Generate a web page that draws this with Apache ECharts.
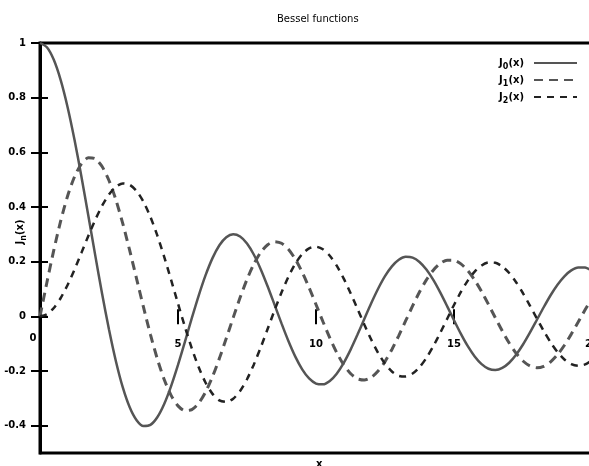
<!DOCTYPE html>
<html><head><meta charset="utf-8">
<script src="https://cdn.jsdelivr.net/npm/echarts@6/dist/echarts.min.js"></script>
<style>html,body{margin:0;padding:0;background:#fff}#c{width:589px;height:466px}</style>
</head><body><div id="c"></div>
<script>
const xs = [0,0.25,0.5,0.75,1,1.25,1.5,1.75,2,2.25,2.5,2.75,3,3.25,3.5,3.75,4,4.25,4.5,4.75,
  5,5.25,5.5,5.75,6,6.25,6.5,6.75,7,7.25,7.5,7.75,8,8.25,8.5,8.75,9,9.25,9.5,9.75,
  10,10.25,10.5,10.75,11,11.25,11.5,11.75,12,12.25,12.5,12.75,13,13.25,13.5,13.75,14,14.25,14.5,14.75,
  15,15.25,15.5,15.75,16,16.25,16.5,16.75,17,17.25,17.5,17.75,18,18.25,18.5,18.75,19,19.25,19.5,19.75,20];
const j0 = [1,0.9844,0.9385,0.8642,0.7652,0.6459,0.5118,0.3690,0.2239,0.0828,-0.0484,-0.1641,-0.2601,-0.3327,-0.3801,-0.4013,-0.3971,-0.3691,-0.3205,-0.2551,
  -0.1776,-0.0931,-0.0068,0.0759,0.1506,0.2130,0.2601,0.2894,0.3001,0.2919,0.2663,0.2252,0.1717,0.1092,0.0419,-0.0259,-0.0903,-0.1474,-0.1939,-0.2273,
  -0.2459,-0.2489,-0.2366,-0.2100,-0.1712,-0.1227,-0.0677,-0.0097,0.0477,0.1009,0.1469,0.1829,0.2069,0.2177,0.2150,0.1990,0.1711,0.1331,0.0875,0.0374,
  -0.0142,-0.0641,-0.1092,-0.1469,-0.1749,-0.1917,-0.1964,-0.1889,-0.1699,-0.1406,-0.1031,-0.0598,-0.0134,0.0332,0.0772,0.1157,0.1466,0.1681,0.1789,0.1784,0.1670];
const j1 = [0,0.1240,0.2423,0.3493,0.4401,0.5106,0.5579,0.5801,0.5767,0.5483,0.4971,0.4260,0.3391,0.2411,0.1374,0.0333,-0.0660,-0.1555,-0.2311,-0.2892,
  -0.3276,-0.3450,-0.3414,-0.3179,-0.2767,-0.2207,-0.1538,-0.0803,-0.0047,0.0685,0.1352,0.1915,0.2346,0.2621,0.2731,0.2672,0.2453,0.2091,0.1613,0.1049,
  0.0435,-0.0190,-0.0789,-0.1325,-0.1768,-0.2093,-0.2284,-0.2330,-0.2234,-0.2003,-0.1655,-0.1212,-0.0703,-0.0161,0.0380,0.0889,0.1334,0.1689,0.1934,0.2056,
  0.2051,0.1919,0.1672,0.1326,0.0904,0.0433,-0.0058,-0.0537,-0.0977,-0.1350,-0.1634,-0.1814,-0.1880,-0.1829,-0.1666,-0.1403,-0.1057,-0.0650,-0.0209,0.0240,0.0668];
const j2 = [0,0.0078,0.0306,0.0671,0.1149,0.1711,0.2321,0.2940,0.3528,0.4047,0.4461,0.4740,0.4862,0.4811,0.4586,0.4191,0.3641,0.2959,0.2178,0.1333,
  0.0466,-0.0383,-0.1173,-0.1865,-0.2429,-0.2837,-0.3074,-0.3132,-0.3014,-0.2731,-0.2303,-0.1758,-0.1130,-0.0456,0.0224,0.0870,0.1448,0.1926,0.2279,0.2488,
  0.2546,0.2452,0.2216,0.1854,0.1390,0.0855,0.0280,-0.0300,-0.0849,-0.1336,-0.1734,-0.2019,-0.2177,-0.2202,-0.2094,-0.1861,-0.1520,-0.1093,-0.0608,-0.0095,
  0.0416,0.0893,0.1308,0.1637,0.1862,0.1970,0.1957,0.1825,0.1584,0.1249,0.0844,0.0393,-0.0075,-0.0533,-0.0952,-0.1306,-0.1577,-0.1748,-0.1810,-0.1760,-0.1603];
const xTicks = [0,5,10,15,20];
const yTicks = [-0.4,-0.2,0,0.2,0.4,0.6,0.8,1];
const seriesNames = ['J{s|0}(x)','J{s|1}(x)','J{s|2}(x)'];

const pair = a => xs.map((x,i)=>[x,a[i]]);
const font = 'DejaVu Sans';
const gridH = 410, yMin = -0.5, yMax = 1;
const zeroFromBottom = gridH * (0 - yMin) / (yMax - yMin);
const zeroFromTop = gridH - zeroFromBottom;
const chart = echarts.init(document.getElementById('c'));
chart.setOption({
  animation:false,
  title:[
    {text:'Bessel functions', left:272, top:9, textStyle:{fontFamily:font,fontSize:10,fontWeight:'normal',color:'#000'}},
    {text:'x', left:311, top:454, textStyle:{fontFamily:font,fontSize:10,fontWeight:'bold',color:'#000'}}
  ],
  grid:{left:40, top:43, width:552, height:gridH, outerBoundsMode:'none', containLabel:false,
        show:true, borderColor:'#000', borderWidth:3, backgroundColor:'transparent'},
  legend:{
    right:11, top:58, padding:0, orient:'vertical', align:'right', itemGap:4, itemWidth:43, itemHeight:10,
    itemStyle:{opacity:0},
    textStyle:{fontFamily:font,fontSize:10,fontWeight:'bold',color:'#000',padding:[0,5,0,0],
      rich:{s:{fontSize:8,fontWeight:'bold',verticalAlign:'bottom',padding:[8,0,0,0],fontFamily:font}}},
    data: seriesNames
  },
  xAxis:[
    {type:'value', min:0, max:20, position:'bottom', offset:-zeroFromBottom,
     axisLine:{show:false, onZero:false},
     axisTick:{show:true, inside:false, length:8, customValues:xTicks.slice(1), lineStyle:{color:'#000',width:2}},
     axisLabel:{customValues:xTicks, margin:17, fontFamily:font, fontSize:10, fontWeight:'bold', color:'#000',
       hideOverlap:false,
       formatter: v => v===0 ? '{z|0}' : '{n|'+v+'}',
       rich:{z:{padding:[0,14,0,0],fontFamily:font,fontSize:10,fontWeight:'bold'},n:{padding:[6,0,0,0],fontFamily:font,fontSize:10,fontWeight:'bold'}}},
     splitLine:{show:false}},
    {type:'value', min:0, max:20, position:'top', offset:-zeroFromTop,
     axisLine:{show:false, onZero:false},
     axisTick:{show:true, inside:false, length:7, customValues:xTicks.slice(1), lineStyle:{color:'#000',width:2}},
     axisLabel:{show:false}, splitLine:{show:false}}
  ],
  yAxis:[
    {type:'value', min:yMin, max:yMax, position:'left',
     axisLine:{show:true, onZero:false, lineStyle:{color:'#000',width:3}},
     axisTick:{show:true, length:9, customValues:yTicks, lineStyle:{color:'#000',width:2}},
     axisLabel:{customValues:yTicks, margin:14, fontFamily:font, fontSize:10, fontWeight:'bold', color:'#000'},
     splitLine:{show:false},
     name:'J{s|n}(x)', nameLocation:'middle', nameGap:12, nameMoveOverlap:false,
     nameTextStyle:{fontFamily:font,fontSize:10,fontWeight:'bold',color:'#000',padding:[0,0,0,32],
       rich:{s:{fontSize:8,fontWeight:'bold',fontFamily:font,padding:[8,0,0,0]}}}},
    {type:'value', min:yMin, max:yMax, position:'left',
     axisLine:{show:false, onZero:false},
     axisTick:{show:true, inside:true, length:8, customValues:yTicks, lineStyle:{color:'#000',width:2}},
     axisLabel:{show:false}, splitLine:{show:false}}
  ],
  series:[
    {name:seriesNames[0], type:'line', data:pair(j0), smooth:0.25, smoothConstraint:false, symbol:'none', color:'#555',
     lineStyle:{color:'#555', width:2.5, type:'solid'}},
    {name:seriesNames[1], type:'line', data:pair(j1), smooth:0.25, smoothConstraint:false, symbol:'none', color:'#555',
     lineStyle:{color:'#555', width:3, type:[9,6]}},
    {name:seriesNames[2], type:'line', data:pair(j2), smooth:0.25, smoothConstraint:false, symbol:'none', color:'#222',
     lineStyle:{color:'#222', width:2.5, type:[7,6]}}
  ]
});
</script></body></html>
